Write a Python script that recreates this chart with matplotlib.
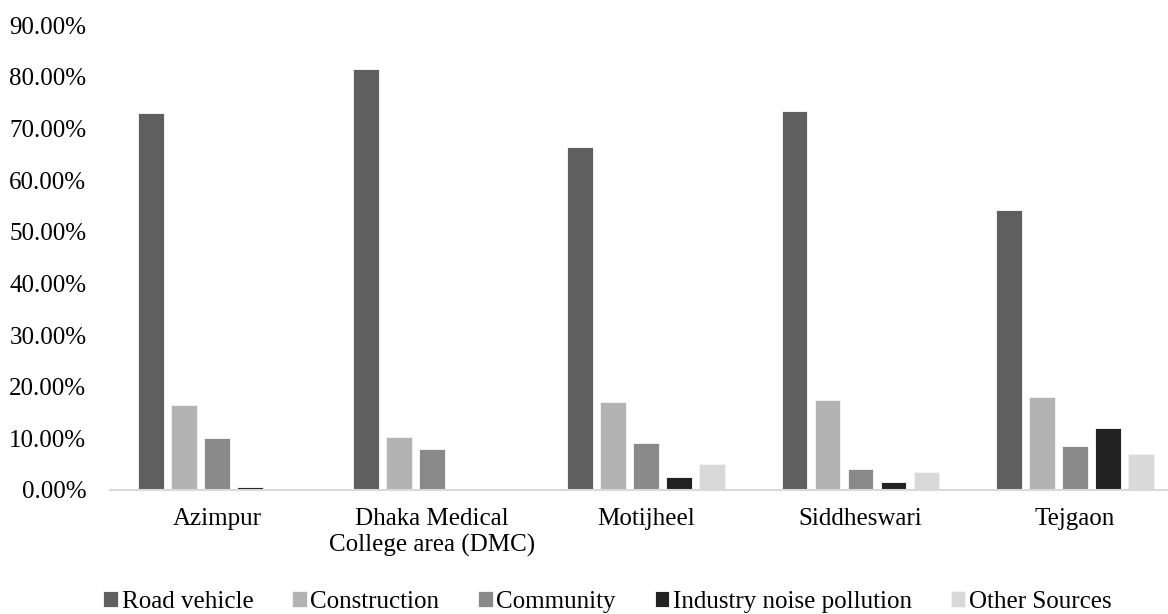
import numpy as np
import matplotlib.pyplot as plt
from matplotlib.ticker import FuncFormatter

plt.rcParams['font.family'] = ['Liberation Serif', 'DejaVu Serif']

# share of respondents naming each noise source, in percent
areas = ['Azimpur', 'Dhaka Medical\nCollege area (DMC)', 'Motijheel', 'Siddheswari', 'Tejgaon']
sources = ['Road vehicle', 'Construction', 'Community', 'Industry noise pollution', 'Other Sources']
road = [72.9, 81.6, 66.4, 73.4, 54.2]
construction = [16.4, 10.3, 17.0, 17.5, 18.0]
community = [10.0, 7.9, 9.0, 4.0, 8.5]
industry = [0.5, 0.0, 2.5, 1.5, 12.0]
other = [0.0, 0.0, 5.0, 3.5, 7.0]

series = [road, construction, community, industry, other]
colors = ['#5f5f5f', '#b3b3b3', '#898989', '#222222', '#d9d9d9']

fig = plt.figure(figsize=(11.68, 6.14), dpi=100)
# plot area runs a little past the right edge of the picture, as in the original
ax = fig.add_axes([0.0942, 0.202, 0.918, 0.757])

x = np.arange(len(areas))
step = 0.154
width = 0.12
for i, (vals, c) in enumerate(zip(series, colors)):
    ax.bar(x + (i - 2) * step, vals, width, color=c, label=sources[i],
           edgecolor='#f2f2f2', linewidth=0.7)

ax.set_xlim(-0.5, len(areas) - 0.5)
ax.set_ylim(0, 90)
ax.set_yticks(np.arange(0, 91, 10))
ax.yaxis.set_major_formatter(FuncFormatter(lambda v, p: '%.2f%%' % v))
ax.set_xticks(x)
ax.set_xticklabels(areas)
ax.tick_params(axis='both', length=0, labelsize=18, colors='black')
ax.tick_params(axis='x', pad=13)
ax.tick_params(axis='y', pad=17)
for s in ['top', 'right', 'left']:
    ax.spines[s].set_visible(False)
ax.spines['bottom'].set_color('#d9d9d9')
ax.spines['bottom'].set_linewidth(1.5)

fig.legend(loc='center', bbox_to_anchor=(0.52, 0.02), ncol=5, frameon=False,
           fontsize=18, handlelength=0.58, handleheight=0.58, handletextpad=0.15,
           columnspacing=1.55)

fig.savefig('out.png', dpi=100)
